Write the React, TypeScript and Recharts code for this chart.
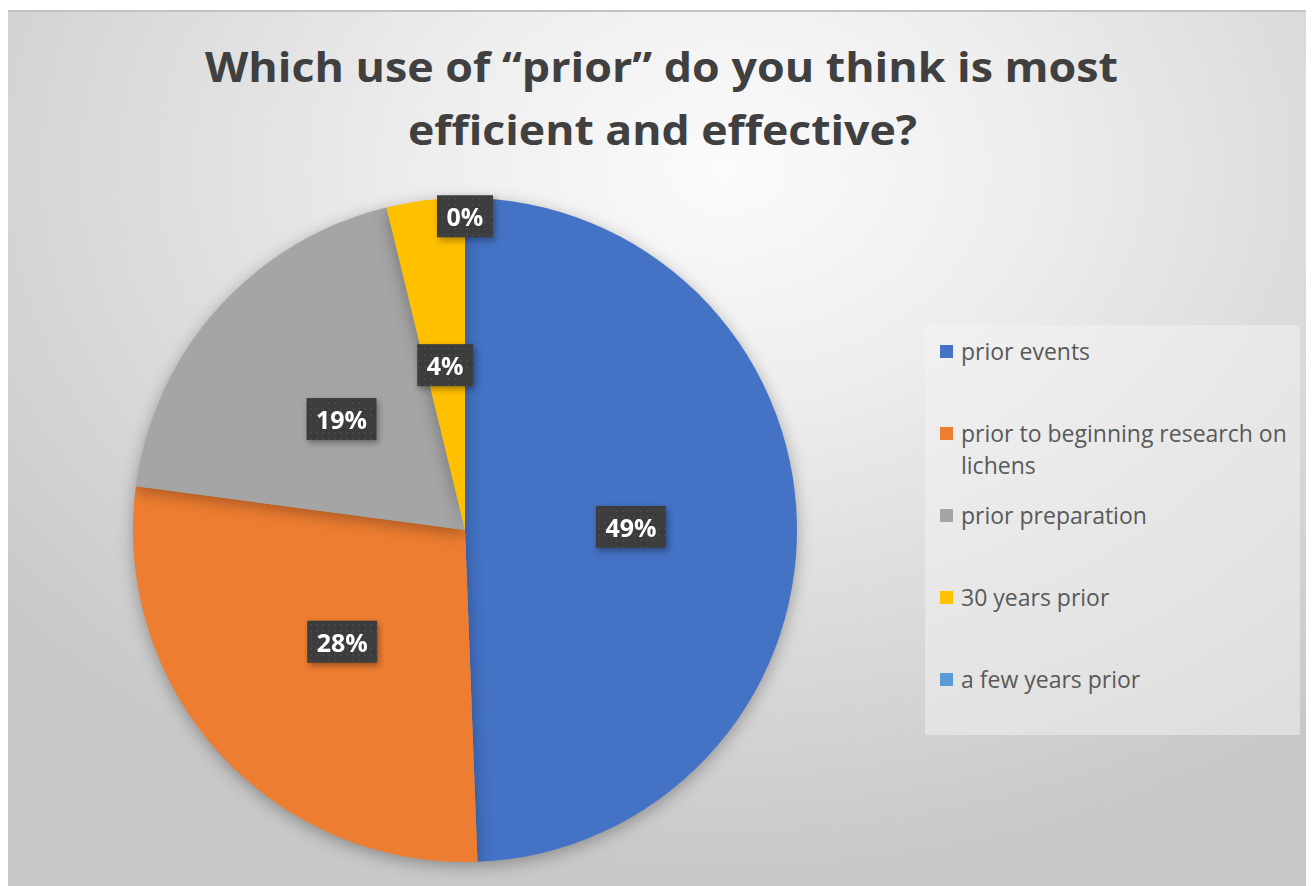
import React from "react";
import { PieChart, Pie, Cell, Legend } from "recharts";

const categories = [
  "prior events",
  "prior to beginning research on lichens",
  "prior preparation",
  "30 years prior",
  "a few years prior",
];
const shares = [49.4, 27.7, 19.1, 3.8, 0];
const sliceColors = ["#4472C4", "#ED7D31", "#A5A5A5", "#FFC000", "#5B9BD5"];
const titleLines = ["Which use of \u201cprior\u201d do you think is most", "efficient and effective?"];

const data = categories.map((name, i) => ({ name, value: shares[i] }));

const W = 1306;
const H = 876;
const RAD = Math.PI / 180;

const renderLabel = (props: any) => {
  const { cx, cy, midAngle, outerRadius, value } = props;
  const r = value === 0 ? outerRadius * 0.945 : outerRadius * 0.5;
  const x = cx + r * Math.cos(-midAngle * RAD);
  const y = cy + r * Math.sin(-midAngle * RAD);
  const txt = `${Math.round(value)}%`;
  const digits = txt.length - 1;
  const w = digits * 14 + 42;
  const h = 42;
  return (
    <g style={{ filter: "drop-shadow(2px 3px 3px rgba(0,0,0,0.35))" }}>
      <rect x={x - w / 2} y={y - h / 2} width={w} height={h} fill="url(#dotPattern)" />
      <text
        x={x}
        y={y}
        textAnchor="middle"
        dominantBaseline="central"
        fill="#ffffff"
        fontFamily="'Open Sans', sans-serif"
        fontWeight={700}
        fontSize={25}
      >
        {txt}
      </text>
    </g>
  );
};

const renderLegend = (props: any) => {
  const payload = [...(props.payload || [])].sort(
    (a: any, b: any) => categories.indexOf(a.value) - categories.indexOf(b.value)
  );
  return (
    <div
      style={{
        position: "relative",
        width: 375,
        height: 410,
        background: "rgba(244,244,244,0.5)",
        fontFamily: "'Open Sans', sans-serif",
        fontSize: 23,
        color: "#595959",
      }}
    >
      {payload.map((entry: any, i: number) => (
        <div
          key={i}
          style={{ position: "absolute", left: 15, top: 10 + i * 82, display: "flex", alignItems: "flex-start" }}
        >
          <div style={{ width: 13, height: 13, background: entry.color, marginTop: 10, marginRight: 8 }} />
          <div style={{ lineHeight: "32px", width: 345, whiteSpace: "normal" }}>{entry.value}</div>
        </div>
      ))}
    </div>
  );
};

export default function App() {
  return (
    <div
      style={{
        position: "relative",
        marginTop: 2,
        width: W,
        height: H,
        borderTop: "2px solid #c2c2c2",
        boxSizing: "border-box",
        background:
          "radial-gradient(ellipse 75% 85% at 55% 18%, #fbfbfb 0%, #eeeeee 30%, #dcdcdc 60%, #c8c8c8 95%)",
      }}
    >
      <svg width={W} height={160} style={{ position: "absolute", left: 0, top: -2 }}>
        <text
          x={653.5}
          y={72}
          textAnchor="middle"
          fill="#404040"
          fontFamily="'Open Sans', sans-serif"
          fontWeight={700}
          fontSize={42}
          textLength={913}
          lengthAdjust="spacingAndGlyphs"
        >
          {titleLines[0]}
        </text>
        <text
          x={654.5}
          y={135}
          textAnchor="middle"
          fill="#404040"
          fontFamily="'Open Sans', sans-serif"
          fontWeight={700}
          fontSize={42}
          textLength={509}
          lengthAdjust="spacingAndGlyphs"
        >
          {titleLines[1]}
        </text>
      </svg>
      <div style={{ position: "absolute", left: 0, top: -2 }}>
        <PieChart width={W} height={H} margin={{ top: 0, right: 0, bottom: 0, left: 0 }}>
          <defs>
            <pattern id="dotPattern" width="6" height="6" patternUnits="userSpaceOnUse">
              <rect width="6" height="6" fill="#3c3c3c" />
              <circle cx="3" cy="3" r="1" fill="#4a4a4a" />
            </pattern>
          </defs>
          <Pie
            data={data}
            dataKey="value"
            nameKey="name"
            cx={457}
            cy={520}
            outerRadius={332}
            startAngle={90}
            endAngle={-270}
            stroke="none"
            labelLine={false}
            label={renderLabel}
            isAnimationActive={false}
            style={{ filter: "drop-shadow(0px 4px 8px rgba(0,0,0,0.3))" }}
          >
            {data.map((d, i) => (
              <Cell key={d.name} fill={sliceColors[i]} />
            ))}
          </Pie>
          <Legend
            content={renderLegend}
            wrapperStyle={{ position: "absolute", left: 917, top: 315, width: 375, height: 410 }}
          />
        </PieChart>
      </div>
    </div>
  );
}
